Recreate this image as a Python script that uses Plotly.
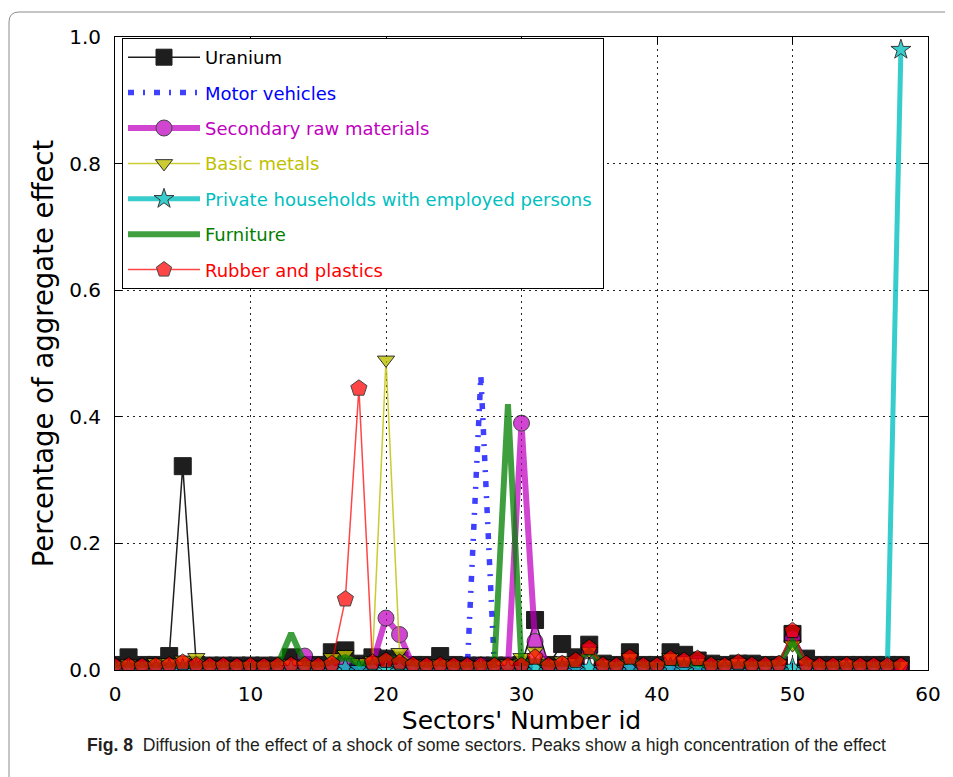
import plotly.graph_objects as go

# ---------------- data ----------------
sectors = list(range(0, 59))

uranium = [
    0.008, 0.020, 0.008, 0.008, 0.022, 0.322, 0.008, 0.007, 0.007, 0.007,
    0.007, 0.007, 0.007, 0.020, 0.008, 0.008, 0.028, 0.031, 0.010, 0.020,
    0.018, 0.015, 0.008, 0.008, 0.022, 0.008, 0.007, 0.007, 0.007, 0.007,
    0.008, 0.079, 0.008, 0.041, 0.020, 0.040, 0.010, 0.008, 0.028, 0.008,
    0.008, 0.028, 0.024, 0.015, 0.010, 0.008, 0.010, 0.010, 0.008, 0.008,
    0.057, 0.018, 0.008, 0.008, 0.008, 0.008, 0.008, 0.008, 0.008]

motor_vehicles = [
    0.004, 0.004, 0.004, 0.004, 0.004, 0.004, 0.004, 0.004, 0.004, 0.004,
    0.004, 0.004, 0.004, 0.005, 0.004, 0.004, 0.006, 0.008, 0.006, 0.008,
    0.020, 0.012, 0.004, 0.004, 0.004, 0.004, 0.004, 0.465, 0.004, 0.004,
    0.004, 0.006, 0.004, 0.004, 0.004, 0.006, 0.004, 0.004, 0.005, 0.004,
    0.004, 0.004, 0.004, 0.004, 0.004, 0.004, 0.004, 0.004, 0.004, 0.004,
    0.008, 0.004, 0.004, 0.004, 0.004, 0.004, 0.004, 0.004, 0.004]

secondary_raw = [
    0.005, 0.005, 0.005, 0.005, 0.005, 0.005, 0.005, 0.005, 0.005, 0.005,
    0.005, 0.005, 0.005, 0.006, 0.022, 0.005, 0.008, 0.012, 0.006, 0.010,
    0.082, 0.056, 0.006, 0.005, 0.006, 0.005, 0.005, 0.008, 0.005, 0.005,
    0.390, 0.045, 0.006, 0.008, 0.006, 0.030, 0.006, 0.005, 0.012, 0.005,
    0.005, 0.010, 0.012, 0.010, 0.005, 0.005, 0.006, 0.005, 0.005, 0.006,
    0.050, 0.008, 0.005, 0.005, 0.006, 0.005, 0.005, 0.005, 0.005]

basic_metals = [
    0.008, 0.010, 0.008, 0.012, 0.012, 0.016, 0.020, 0.008, 0.008, 0.008,
    0.008, 0.008, 0.008, 0.010, 0.008, 0.008, 0.020, 0.025, 0.012, 0.015,
    0.490, 0.028, 0.010, 0.008, 0.010, 0.008, 0.008, 0.008, 0.008, 0.010,
    0.020, 0.030, 0.010, 0.015, 0.012, 0.030, 0.010, 0.008, 0.020, 0.008,
    0.008, 0.020, 0.015, 0.012, 0.008, 0.010, 0.012, 0.008, 0.008, 0.010,
    0.040, 0.010, 0.008, 0.008, 0.010, 0.008, 0.008, 0.008, 0.008]

private_households = [
    0.002, 0.002, 0.002, 0.002, 0.002, 0.002, 0.002, 0.002, 0.002, 0.002,
    0.002, 0.002, 0.002, 0.002, 0.002, 0.002, 0.002, 0.004, 0.002, 0.004,
    0.002, 0.004, 0.002, 0.002, 0.002, 0.002, 0.002, 0.004, 0.002, 0.002,
    0.002, 0.004, 0.002, 0.002, 0.002, 0.004, 0.002, 0.002, 0.004, 0.002,
    0.002, 0.004, 0.002, 0.004, 0.002, 0.002, 0.002, 0.002, 0.002, 0.002,
    0.004, 0.002, 0.002, 0.002, 0.002, 0.002, 0.002, 0.002, 0.980]

furniture = [
    0.008, 0.008, 0.008, 0.008, 0.008, 0.008, 0.008, 0.008, 0.008, 0.008,
    0.008, 0.008, 0.008, 0.058, 0.010, 0.008, 0.012, 0.020, 0.010, 0.012,
    0.020, 0.015, 0.010, 0.008, 0.010, 0.008, 0.008, 0.008, 0.008, 0.420,
    0.010, 0.015, 0.008, 0.010, 0.010, 0.030, 0.008, 0.008, 0.015, 0.008,
    0.008, 0.012, 0.012, 0.010, 0.008, 0.008, 0.010, 0.008, 0.008, 0.010,
    0.045, 0.010, 0.008, 0.008, 0.008, 0.008, 0.008, 0.008, 0.008]

rubber_plastics = [
    0.006, 0.007, 0.006, 0.007, 0.008, 0.012, 0.008, 0.007, 0.007, 0.006,
    0.007, 0.006, 0.007, 0.008, 0.008, 0.007, 0.010, 0.112, 0.445, 0.012,
    0.015, 0.012, 0.008, 0.007, 0.008, 0.007, 0.007, 0.007, 0.007, 0.007,
    0.007, 0.020, 0.007, 0.010, 0.015, 0.035, 0.008, 0.007, 0.020, 0.007,
    0.007, 0.018, 0.015, 0.018, 0.008, 0.007, 0.012, 0.008, 0.008, 0.010,
    0.062, 0.010, 0.007, 0.007, 0.008, 0.007, 0.007, 0.007, 0.007]

x_ticks = [0, 10, 20, 30, 40, 50, 60]
y_ticks = [0.0, 0.2, 0.4, 0.6, 0.8, 1.0]

# ---------------- layout geometry ----------------
# the page adds an 8px body margin, so the figure is laid out 8px smaller
OFF = 8
W, H = 953 - OFF, 777 - OFF
L, R, T, B = 115, 928, 37, 670  # plot area in screen pixels


def px2x(px):
    return (px - L) / (R - L)


def py2y(py):
    return (B - py) / (B - T)


def label(text, color):
    return '<span style="color:%s">%s</span>' % (color, text)


fig = go.Figure()

series = [
    dict(y=uranium, name="Uranium", color="#000000", mode="lines+markers",
         lw=1.5, dash="solid", sym="square", ms=17, op=0.88),
    dict(y=motor_vehicles, name="Motor vehicles", color="#0000ff", mode="lines",
         lw=5.5, dash="6px,9px,2px,9px", sym="square", ms=1, op=0.75),
    dict(y=secondary_raw, name="Secondary raw materials", color="#bf00bf", mode="lines+markers",
         lw=6, dash="solid", sym="circle", ms=16, op=0.72),
    dict(y=basic_metals, name="Basic metals", color="#bfbf00", mode="lines+markers",
         lw=1.5, dash="solid", sym="triangle-down", ms=15, op=0.8),
    dict(y=private_households, name="Private households with employed persons&#160;", color="#00bfbf",
         mode="lines+markers", lw=5, dash="solid", sym="star", ms=15, op=0.78),
    dict(y=furniture, name="Furniture", color="#008000", mode="lines",
         lw=6, dash="solid", sym="circle", ms=1, op=0.75),
    dict(y=rubber_plastics, name="Rubber and plastics", color="#ff0000", mode="lines+markers",
         lw=1.5, dash="solid", sym="pentagon", ms=17, op=0.72),
]

for i, s in enumerate(series):
    fig.add_trace(go.Scatter(
        x=sectors, y=s["y"], mode=s["mode"],
        name=label(s["name"], s["color"]),
        legendgroup="g%d" % i,
        line=dict(color=s["color"], width=s["lw"], dash=s["dash"]),
        marker=dict(symbol=s["sym"], size=s["ms"], color=s["color"],
                    line=dict(color="#000000", width=1)),
        opacity=s["op"],
    ))

# rounded outer frame of the figure panel (screen pixels)
fl, ft, fr, fb, rad = 9, 12, 990, 800, 10
path = ("M %f,%f L %f,%f Q %f,%f %f,%f L %f,%f" % (
    px2x(fl), py2y(fb), px2x(fl), py2y(ft + rad), px2x(fl), py2y(ft),
    px2x(fl + rad), py2y(ft), px2x(fr), py2y(ft)))

fig.update_layout(
    width=W, height=H,
    margin=dict(l=L - OFF, r=W - (R - OFF), t=T - OFF, b=H - (B - OFF), autoexpand=False),
    plot_bgcolor="white", paper_bgcolor="white",
    font=dict(family="DejaVu Sans", color="#000000"),
    showlegend=True,
    legend=dict(
        x=px2x(122), y=py2y(38), xanchor="left", yanchor="top",
        bordercolor="#000000", borderwidth=1, bgcolor="white",
        font=dict(family="DejaVu Sans", size=18),
        tracegroupgap=9, itemwidth=72,
    ),
    shapes=[dict(type="path", xref="paper", yref="paper", path=path,
                 line=dict(color="#8c8c8c", width=1), layer="above")],
    annotations=[dict(
        xref="paper", yref="paper", x=px2x(85), y=py2y(745),
        xanchor="left", yanchor="middle", showarrow=False,
        text="<b>Fig. 8</b>  Diffusion of the effect of a shock of some sectors. "
             "Peaks show a high concentration of the effect",
        font=dict(family="Liberation Sans", size=17.6, color="#231f20"),
    )],
)

grid_dash = "1.5px,4.5px"
fig.update_xaxes(
    range=[0, 60], tickvals=x_ticks, ticktext=[str(v) for v in x_ticks],
    showline=True, linecolor="#000000", linewidth=1, mirror="ticks",
    ticks="inside", ticklen=7, tickcolor="#000000",
    showgrid=True, gridcolor="#222222", griddash=grid_dash, gridwidth=1.3,
    zeroline=False, tickfont=dict(size=20), ticklabelstandoff=6,
    title=dict(text="Sectors' Number id", font=dict(size=25), standoff=6),
)
fig.update_yaxes(
    range=[0, 1.0], tickvals=y_ticks, ticktext=["%.1f" % v for v in y_ticks],
    showline=True, linecolor="#000000", linewidth=1, mirror="ticks",
    ticks="inside", ticklen=7, tickcolor="#000000",
    showgrid=True, gridcolor="#222222", griddash=grid_dash, gridwidth=1.3,
    zeroline=False, tickfont=dict(size=20), ticklabelstandoff=9,
    title=dict(text="Percentage of aggregate effect", font=dict(size=27.5), standoff=7),
)

fig.write_html("out.html")
